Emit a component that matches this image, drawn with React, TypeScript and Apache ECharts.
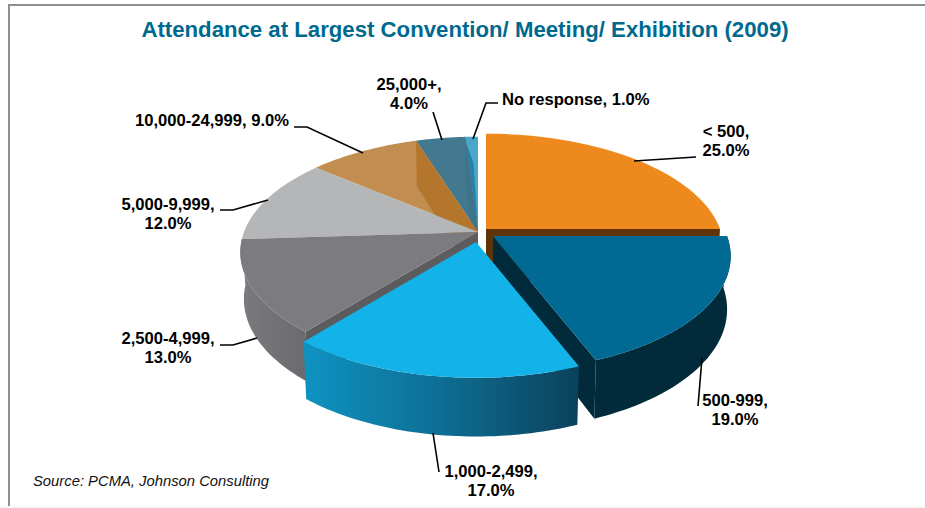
import React, { useEffect, useRef } from "react";
import * as echarts from "echarts";

const categories = ["< 500", "500-999", "1,000-2,499", "2,500-4,999", "5,000-9,999", "10,000-24,999", "25,000+", "No response"];
const shares = [25, 19, 17, 13, 12, 9, 4, 1];
const titleText = "Attendance at Largest Convention/ Meeting/ Exhibition (2009)";
const sourceText = "Source: PCMA, Johnson Consulting";

// painter's order, back slices first
const drawOrder = [7, 6, 5, 4, 3, 0, 1, 2];
// apex of each slice on screen (explosion)
const apexes = [[486, 229], [493, 236], [476, 242], [478, 232], [478, 232], [478, 232], [478, 232], [478, 232]];
const depthScales = [1, 1, 1, 0.88, 1, 1, 1, 1];
const topColors = ["#EE8A1D", "#006A94", "#13B3EA", "#7C7B80", "#B5B6B8", "#C28D50", "#43798F", "#4BA6CB"];
const sideFills: any[] = [
  null,
  "#012B3A",
  { type: "linear", x: 0, y: 0, x2: 1, y2: 0, colorStops: [{ offset: 0, color: "#0E93C2" }, { offset: 0.5, color: "#0E6E94" }, { offset: 1, color: "#0B415B" }] },
  { type: "linear", x: 0, y: 0, x2: 1, y2: 0, colorStops: [{ offset: 0, color: "#7B7A7E" }, { offset: 1, color: "#6A696D" }] },
  null, null, null, null,
];
const startWalls = [null, null, null, "#5C5B5E", null, null, null, null];
const endWalls = ["#5E3408", "#012B3A", null, null, null, null, null, null];
// translucent-looking inner wall shown over the top face of back slices
const innerWalls = [null, null, null, null, null, "#B4762D", "#3E748B", null];
const innerWedges = [null, null, null, null, null, null, null, "#2880A6"];

const labelCenters = [[726, 141], [735, 410], [491, 481], [168, 348], [168, 214], [212, 120], [409, 94], [502, 99]];
const labelAligns = ["center", "center", "center", "center", "center", "center", "center", "left"];
const labelOneLine = [false, false, false, false, false, true, false, true];
const leaders = [
  [[634, 161], [696, 157]],
  [[702, 358], [698, 406]],
  [[433, 433], [439, 472]],
  [[220, 345], [233, 345], [257, 338]],
  [[220, 210], [233, 210], [268, 200]],
  [[294, 127], [307, 127], [363, 153]],
  [[433, 112], [442, 140]],
  [[498, 103], [486, 103], [473, 139]],
];

const RX = 234;
const RY = 112;
const P = 0.175;
const DEPTH = 52;
const ARC_STEPS = 48;

const total = shares.reduce((a, b) => a + b, 0);
const startAngle = (i: number) => (shares.slice(0, i).reduce((a, b) => a + b, 0) / total) * Math.PI * 2;

function top(t: number, a: number[]) {
  const d = 1 + P * Math.cos(t);
  return [a[0] + (RX * Math.sin(t)) / d, a[1] - (RY * Math.cos(t)) / d];
}
function bottomAt(t: number, a: number[], k: number) {
  const p = top(t, a);
  return [a[0] + (p[0] - a[0]) * 0.985, p[1] + k * DEPTH * (1 - 0.13 * Math.cos(t))];
}
const apexBottom = (a: number[], k: number) => [a[0], a[1] + k * DEPTH];
function arc(fn: (t: number, a: number[]) => number[], t0: number, t1: number, a: number[]) {
  const pts: number[][] = [];
  for (let k = 0; k <= ARC_STEPS; k++) pts.push(fn(t0 + ((t1 - t0) * k) / ARC_STEPS, a));
  return pts;
}
const lerp = (p: number[], q: number[], f: number) => [p[0] + (q[0] - p[0]) * f, p[1] + (q[1] - p[1]) * f];
const poly = (points: number[][], fill: any) => ({
  type: "polygon",
  shape: { points },
  style: { fill, stroke: null },
});

function renderSlice(params: any, api: any) {
  const i = api.value(0) as number;
  const t0 = startAngle(i);
  const t1 = t0 + (api.value(1) / total) * Math.PI * 2;
  const a = apexes[i];
  const k = depthScales[i];
  const bottom = (t: number, ap: number[]) => bottomAt(t, ap, k);
  const wall = (t: number, fill: string) => poly([a, top(t, a), bottom(t, a), apexBottom(a, k)], fill);
  const children: any[] = [];
  if (sideFills[i]) {
    children.push(poly([...arc(top, t0, t1, a), ...arc(bottom, t0, t1, a).reverse()], sideFills[i]));
  }
  if (startWalls[i]) children.push(wall(t0, startWalls[i] as string));
  if (endWalls[i]) children.push(wall(t1, endWalls[i] as string));
  children.push(poly([a, ...arc(top, t0, t1, a)], topColors[i]));
  if (innerWalls[i]) children.push(wall(t1, innerWalls[i] as string));
  if (innerWedges[i]) {
    children.push(poly([a, lerp(a, top(t0, a), 0.93), lerp(a, top((t0 + t1) / 2, a), 0.72)], innerWedges[i]));
  }
  return { type: "group", children };
}

function renderLabel(params: any, api: any) {
  const i = api.value(0) as number;
  const pct = `${(api.value(1) as number).toFixed(1)}%`;
  const text = `${categories[i]},${labelOneLine[i] ? " " : "\n"}${pct}`;
  return {
    type: "group",
    children: [
      { type: "polyline", shape: { points: leaders[i] }, style: { stroke: "#000", lineWidth: 1.6, fill: null } },
      {
        type: "text",
        style: {
          text,
          x: labelCenters[i][0],
          y: labelCenters[i][1],
          align: labelAligns[i],
          verticalAlign: "middle",
          lineHeight: 19,
          fill: "#000",
          font: 'bold 16.6px "Liberation Sans"',
        },
      },
    ],
  };
}

export default function App() {
  const ref = useRef<HTMLDivElement>(null);
  useEffect(() => {
    const chart = echarts.init(ref.current!, null, { renderer: "svg" });
    chart.setOption({
      animation: false,
      backgroundColor: "#fff",
      title: {
        text: titleText,
        left: 460,
        top: 13,
        textAlign: "center",
        textStyle: { color: "#006A8E", fontSize: 22.2, fontWeight: "bold", fontFamily: "Liberation Sans" },
      },
      graphic: [
        { type: "line", shape: { x1: 9, y1: 5, x2: 925, y2: 5 }, style: { stroke: "#8E8E8E", lineWidth: 2 } },
        { type: "line", shape: { x1: 9, y1: 4, x2: 9, y2: 506 }, style: { stroke: "#8E8E8E", lineWidth: 2 } },
        { type: "line", shape: { x1: 0, y1: 507, x2: 925, y2: 507 }, style: { stroke: "#EEEEEE", lineWidth: 1 } },
        {
          type: "text",
          style: { text: sourceText, x: 33, y: 481, verticalAlign: "middle", fill: "#111", font: 'italic 14.8px "Liberation Sans"' },
        },
      ],
      series: [
        {
          type: "custom",
          coordinateSystem: "none",
          renderItem: renderSlice,
          data: drawOrder.map((i) => [i, shares[i]]),
          silent: true,
        },
        {
          type: "custom",
          coordinateSystem: "none",
          renderItem: renderLabel,
          data: shares.map((v, i) => [i, v]),
          silent: true,
          z: 5,
        },
      ],
    });
    return () => chart.dispose();
  }, []);
  return <div ref={ref} style={{ position: "fixed", left: 0, top: 0, width: 925, height: 508 }} />;
}
